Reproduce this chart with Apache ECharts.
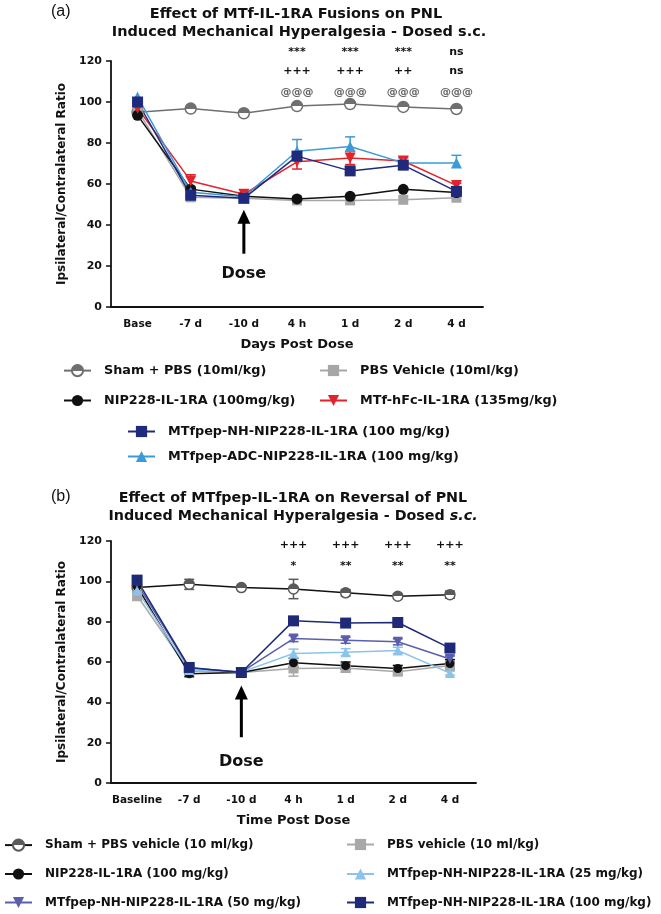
<!DOCTYPE html>
<html><head><meta charset="utf-8">
<script src="https://cdn.jsdelivr.net/npm/echarts@6/dist/echarts.min.js"></script>
<style>html,body{margin:0;padding:0;background:#fff}#c{width:661px;height:914px}</style>
</head><body><div id="c"></div>
<script>
// ---------- data: panel (a) ----------
const catsA = ['Base', '-7 d', '-10 d', '4 h', '1 d', '2 d', '4 d'];
const shamA = [95, 96.8, 94.5, 98, 99, 97.6, 96.6];
const pbsA  = [96, 53.5, 53, 52, 52, 52.3, 53.3];
const nipA  = [93.5, 57.5, 54, 52.7, 54, 57.4, 55.8];
const hfcA  = [97, 61.5, 55, 70.8, 72.7, 71.2, 59.3];
const adcA  = [102.5, 56, 53.8, 76, 78.3, 70.3, 70.2];
const nhA   = [100, 54.5, 53, 73.6, 66.4, 69.2, 56.4];
const hfcErrA = [0.5, 3, 0.5, 3.5, 3.2, 1.8, 1];
const adcErrA = [0, 0, 0, 5.7, 4.7, 2.5, 3.8];
const nhErrA  = [0.5, 0.5, 0.5, 1.5, 1, 1.2, 1];
const sigCatsA = ['4 h', '1 d', '2 d', '4 d'];
const sigStarsA = ['***', '***', '***', 'ns'];
const sigPlusA  = ['+++', '+++', '++', 'ns'];
const sigAtA    = ['@@@', '@@@', '@@@', '@@@'];

// ---------- data: panel (b) ----------
const catsB = ['Baseline', '-7 d', '-10 d', '4 h', '1 d', '2 d', '4 d'];
const shamB  = [97, 98.5, 96.9, 96.2, 94.3, 92.6, 93.4];
const pbsB   = [93, 55.5, 54.8, 56.8, 57, 55.2, 58.3];
const nipB   = [97.5, 54.2, 54.8, 59.6, 58.2, 56.8, 59.2];
const mt25B  = [95.5, 56, 55, 64.2, 64.8, 65.7, 54.5];
const mt50B  = [99, 57, 55, 71.6, 70.8, 70, 61.5];
const mt100B = [100.6, 57.3, 54.8, 80.4, 79.3, 79.6, 66.9];
const shamErrB  = [2, 2.5, 0.8, 4.8, 1.6, 1.2, 1.8];
const pbsErrB   = [2.5, 1.5, 1, 3.8, 2, 1.5, 2.5];
const nipErrB   = [1, 1.5, 1, 2.2, 1.8, 1.5, 2];
const mt25ErrB  = [1, 1, 1, 2.2, 1.8, 1.6, 1];
const mt50ErrB  = [1, 1, 1, 1.5, 1.5, 1.5, 1.5];
const mt100ErrB = [1.5, 1, 1, 1, 1, 1, 1];
const sigCatsB = ['4 h', '1 d', '2 d', '4 d'];
const sigPlusB  = ['+++', '+++', '+++', '+++'];
const sigStarsB = ['*', '**', '**', '**'];

// ---------- styling / layout ----------
const F = 'DejaVu Sans';
const halfFill = (c) => new echarts.graphic.LinearGradient(0, 0, 0, 1, [
  {offset: 0, color: c}, {offset: 0.5, color: c}, {offset: 0.5, color: '#fff'}, {offset: 1, color: '#fff'}]);

const panelA = [
  {name: 'Sham + PBS (10ml/kg)', data: shamA, color: '#6f6f6f', symbol: 'circle', half: true, size: 11},
  {name: 'PBS Vehicle (10ml/kg)', data: pbsA, color: '#a6a6a6', symbol: 'rect', size: 10},
  {name: 'NIP228-IL-1RA (100mg/kg)', data: nipA, color: '#111111', symbol: 'circle', size: 11},
  {name: 'MTf-hFc-IL-1RA (135mg/kg)', data: hfcA, color: '#e3232c', symbol: 'triangle', rot: 180, size: 11, err: hfcErrA, dir: 0},
  {name: 'MTfpep-ADC-NIP228-IL-1RA (100 mg/kg)', data: adcA, color: '#3d9ad8', symbol: 'triangle', size: 11, err: adcErrA, dir: 1},
  {name: 'MTfpep-NH-NIP228-IL-1RA (100 mg/kg)', data: nhA, color: '#1f2a7c', symbol: 'rect', size: 11, err: nhErrA, dir: 0}
];
const panelB = [
  {name: 'Sham + PBS vehicle (10 ml/kg)', data: shamB, color: '#5a5a5a', line: '#111', symbol: 'circle', half: true, size: 10, err: shamErrB, dir: 0},
  {name: 'PBS vehicle (10 ml/kg)', data: pbsB, color: '#a8a8a8', symbol: 'rect', size: 10, err: pbsErrB, dir: 0},
  {name: 'NIP228-IL-1RA (100 mg/kg)', data: nipB, color: '#111111', symbol: 'circle', size: 9, err: nipErrB, dir: 0},
  {name: 'MTfpep-NH-NIP228-IL-1RA (25 mg/kg)', data: mt25B, color: '#8cc3ea', symbol: 'triangle', size: 10, err: mt25ErrB, dir: 0},
  {name: 'MTfpep-NH-NIP228-IL-1RA (50 mg/kg)', data: mt50B, color: '#5a5eae', symbol: 'triangle', rot: 180, size: 10, err: mt50ErrB, dir: 0},
  {name: 'MTfpep-NH-NIP228-IL-1RA (100 mg/kg) ', data: mt100B, color: '#1e2a78', symbol: 'rect', size: 11, err: mt100ErrB, dir: 0}
];

function lineSeries(s, gi) {
  return {
    type: 'line', name: s.name, xAxisIndex: gi, yAxisIndex: gi, data: s.data,
    symbol: s.symbol, symbolSize: s.size, symbolRotate: s.rot || 0,
    lineStyle: {color: s.line || s.color, width: 1.5},
    itemStyle: {color: s.half ? halfFill(s.color) : s.color, borderColor: s.color, borderWidth: s.half ? 1.5 : 0, opacity: 1},
    emphasis: {disabled: true}, z: 3
  };
}
function errSeries(s, gi) {
  const dir = s.dir;
  return {
    type: 'custom', xAxisIndex: gi, yAxisIndex: gi, silent: true, z: 2,
    data: s.data.map((v, i) => [i, v, s.err[i]]),
    renderItem: function (params, api) {
      const x = api.value(0), v = api.value(1), e = api.value(2);
      if (!e) return null;
      const top = api.coord([x, v + (dir >= 0 ? e : 0)]);
      const bot = api.coord([x, v - (dir <= 0 ? e : 0)]);
      const w = 5, st = {stroke: s.color, lineWidth: 1.5};
      const ch = [{type: 'line', shape: {x1: top[0], y1: top[1], x2: bot[0], y2: bot[1]}, style: st}];
      if (dir >= 0) ch.push({type: 'line', shape: {x1: top[0] - w, y1: top[1], x2: top[0] + w, y2: top[1]}, style: st});
      if (dir <= 0) ch.push({type: 'line', shape: {x1: bot[0] - w, y1: bot[1], x2: bot[0] + w, y2: bot[1]}, style: st});
      return {type: 'group', children: ch};
    }
  };
}
function textSeries(gi, cats, items) {
  return {
    type: 'custom', xAxisIndex: gi, yAxisIndex: gi, silent: true, z: 5,
    data: items.map(it => [cats.indexOf(it.cat), it.y]),
    renderItem: function (params, api) {
      const it = items[params.dataIndex];
      const p = api.coord([api.value(0), api.value(1)]);
      return {type: 'text', x: p[0], y: p[1], style: {text: it.text, fill: it.color || '#111',
        font: 'bold ' + (it.size || 11) + 'px "' + F + '"', textAlign: 'center', textVerticalAlign: 'middle'}};
    }
  };
}
function arrowSeries(gi, cats, cat, yTip, yBase) {
  return {
    type: 'custom', xAxisIndex: gi, yAxisIndex: gi, silent: true, z: 5,
    data: [[cats.indexOf(cat), yTip, yBase]],
    renderItem: function (params, api) {
      const t = api.coord([api.value(0), api.value(1)]);
      const b = api.coord([api.value(0), api.value(2)]);
      const hh = 14, hw = 6.5;
      return {type: 'group', children: [
        {type: 'line', shape: {x1: b[0], y1: b[1], x2: t[0], y2: t[1] + hh - 1}, style: {stroke: '#000', lineWidth: 3}},
        {type: 'polygon', shape: {points: [[t[0], t[1]], [t[0] - hw, t[1] + hh], [t[0] + hw, t[1] + hh]]}, style: {fill: '#000'}}
      ]};
    }
  };
}
function sigItems(cats, rows, levels, colors) {
  const out = [];
  rows.forEach((r, k) => r.forEach((t, i) => out.push({cat: cats[i], y: levels[k], text: t, color: colors[k]})));
  return out;
}

const axisCol = '#111';
function mkX(cats, gi, name) {
  return {
    type: 'category', gridIndex: gi, data: cats, boundaryGap: true,
    axisLine: {lineStyle: {color: axisCol, width: 1.8}},
    axisTick: {alignWithLabel: true, length: 6, lineStyle: {color: axisCol, width: 1.5}},
    axisLabel: {color: axisCol, fontFamily: F, fontWeight: 'bold', fontSize: 10.5, margin: 12, interval: 0},
    name: name, nameLocation: 'middle', nameGap: 31,
    nameTextStyle: {color: axisCol, fontFamily: F, fontWeight: 'bold', fontSize: 13}
  };
}
function mkY(gi) {
  return {
    type: 'value', gridIndex: gi, min: 0, max: 120, interval: 20,
    axisLine: {show: true, lineStyle: {color: axisCol, width: 1.8}},
    axisTick: {show: true, length: 5, lineStyle: {color: axisCol, width: 1.5}},
    splitLine: {show: false},
    axisLabel: {color: axisCol, fontFamily: F, fontWeight: 'bold', fontSize: 11, margin: 9},
    name: 'Ipsilateral/Contralateral Ratio', nameLocation: 'middle', nameGap: 42, nameRotate: 90,
    nameTextStyle: {color: axisCol, fontFamily: F, fontWeight: 'bold', fontSize: 12}
  };
}
function leg(name, x, y, fs) {
  return {
    data: [name], left: x, top: y - 7, itemWidth: 27, itemHeight: 14, padding: 0, selectedMode: false,
    textStyle: {fontFamily: F, fontWeight: 'bold', fontSize: fs, color: '#111', padding: [0, 0, 0, 8]}
  };
}

const series = [];
panelA.forEach(s => { if (s.err) series.push(errSeries(s, 0)); });
panelB.forEach(s => { if (s.err) series.push(errSeries(s, 1)); });
panelA.forEach(s => series.push(lineSeries(s, 0)));
panelB.forEach(s => series.push(lineSeries(s, 1)));
series.push(textSeries(0, catsA, sigItems(sigCatsA, [sigStarsA, sigPlusA, sigAtA], [124.2, 115, 105], ['#111', '#111', '#666'])
  .concat([{cat: '-10 d', y: 16, text: 'Dose', size: 16}])));
series.push(textSeries(1, catsB, sigItems(sigCatsB, [sigPlusB, sigStarsB], [118, 107.3], ['#111', '#111'])
  .concat([{cat: '-10 d', y: 10.3, text: 'Dose', size: 16}])));
series.push(arrowSeries(0, catsA, '-10 d', 47.5, 26));
series.push(arrowSeries(1, catsB, '-10 d', 48.3, 22.7));

const titleFont = (s) => 'bold ' + s + 'px "' + F + '"';
const option = {
  animation: false,
  backgroundColor: '#fff',
  grid: [{left: 111, top: 61, width: 372, height: 246}, {left: 111, top: 541, width: 365, height: 242}],
  xAxis: [mkX(catsA, 0, 'Days Post Dose'), mkX(catsB, 1, 'Time Post Dose')],
  yAxis: [mkY(0), mkY(1)],
  legend: [
    leg(panelA[0].name, 63, 371, 12.8), leg(panelA[1].name, 319, 371, 12.8),
    leg(panelA[2].name, 63, 401, 12.8), leg(panelA[3].name, 319, 401, 12.8),
    leg(panelA[5].name, 127, 432, 12.8), leg(panelA[4].name, 127, 457, 12.8),
    leg(panelB[0].name, 4, 845.5, 12), leg(panelB[1].name, 346, 845.5, 12),
    leg(panelB[2].name, 4, 875, 12), leg(panelB[3].name, 346, 875, 12),
    leg(panelB[4].name, 4, 903.5, 12), leg(panelB[5].name, 346, 903.5, 12)
  ],
  graphic: [
    {type: 'text', x: 51, y: 12, style: {text: '(a)', font: '16px "Liberation Sans"', fill: '#111', textVerticalAlign: 'middle'}},
    {type: 'text', x: 296, y: 14, style: {text: 'Effect of MTf-IL-1RA Fusions on PNL', font: titleFont(14.5), fill: '#111', textAlign: 'center', textVerticalAlign: 'middle'}},
    {type: 'text', x: 299, y: 32, style: {text: 'Induced Mechanical Hyperalgesia - Dosed s.c.', font: titleFont(14.5), fill: '#111', textAlign: 'center', textVerticalAlign: 'middle'}},
    {type: 'text', x: 51, y: 497, style: {text: '(b)', font: '16px "Liberation Sans"', fill: '#111', textVerticalAlign: 'middle'}},
    {type: 'text', x: 293, y: 498, style: {text: 'Effect of MTfpep-IL-1RA on Reversal of PNL', font: titleFont(14.3), fill: '#111', textAlign: 'center', textVerticalAlign: 'middle'}},
    {type: 'text', x: 293, y: 516, style: {text: 'Induced Mechanical Hyperalgesia - Dosed {i|s.c.}', font: titleFont(14.3), fill: '#111', textAlign: 'center', textVerticalAlign: 'middle',
      rich: {i: {fontStyle: 'italic', fontWeight: 'bold', fontSize: 14.3, fontFamily: F, fill: '#111'}}}}
  ],
  series: series
};
const chart = echarts.init(document.getElementById('c'), null, {renderer: 'canvas'});
chart.setOption(option);
</script>
</body></html>
